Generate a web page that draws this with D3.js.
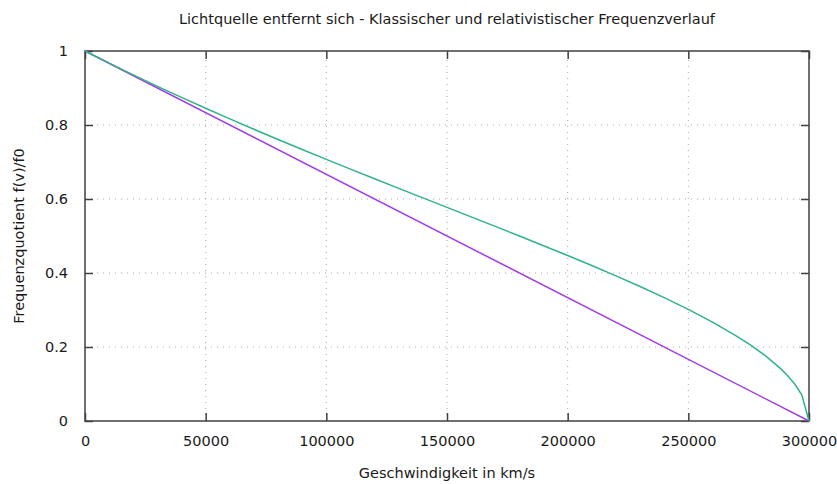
<!DOCTYPE html>
<html>
<head>
<meta charset="utf-8">
<script src="https://cdn.jsdelivr.net/npm/d3@7"></script>
<style>
  body { margin: 0; background: #fff; }
  text { font-family: "DejaVu Sans", Verdana, sans-serif; fill: #1a1a1a; }
</style>
</head>
<body>
<div id="chart"></div>
<script>
// geschwindigkeit in km/s
var vKlassisch = [0, 300000];
var fKlassisch = [1, 0];

var vRel = [0, 10000, 20000, 30000, 40000, 50000, 60000, 70000, 80000, 90000,
  100000, 110000, 120000, 130000, 140000, 150000, 160000, 170000, 180000, 190000,
  200000, 210000, 220000, 230000, 240000, 250000, 260000, 270000, 276000, 282000,
  288000, 291000, 294000, 297000, 300000];
var fRel = [1, 0.9672, 0.9354, 0.9045, 0.8745, 0.8452, 0.8165, 0.7884, 0.7609, 0.7338,
  0.7071, 0.6807, 0.6547, 0.6288, 0.6030, 0.5774, 0.5517, 0.5259, 0.5000, 0.4738,
  0.4472, 0.4201, 0.3922, 0.3634, 0.3333, 0.3015, 0.2673, 0.2294, 0.2041, 0.1759,
  0.1429, 0.1234, 0.1005, 0.0709, 0];

var xTicks = [0, 50000, 100000, 150000, 200000, 250000, 300000];
var yTicks = [0, 0.2, 0.4, 0.6, 0.8, 1];

var width = 837, height = 484;
var margin = {top: 51, right: 28, bottom: 63, left: 85};

var svg = d3.select("#chart").append("svg")
  .attr("width", width)
  .attr("height", height);

var x = d3.scaleLinear().domain([0, 300000]).range([margin.left, width - margin.right]);
var y = d3.scaleLinear().domain([0, 1]).range([height - margin.bottom, margin.top]);

// gitter
svg.append("g").selectAll("line")
  .data(xTicks.slice(1, -1))
  .enter().append("line")
    .attr("x1", function(d) { return x(d); })
    .attr("x2", function(d) { return x(d); })
    .attr("y1", y(0)).attr("y2", y(1))
    .style("stroke", "#a8a8a8")
    .style("stroke-width", 1)
    .style("stroke-dasharray", "1,5");
svg.append("g").selectAll("line")
  .data(yTicks.slice(1, -1))
  .enter().append("line")
    .attr("y1", function(d) { return y(d); })
    .attr("y2", function(d) { return y(d); })
    .attr("x1", x(0)).attr("x2", x(300000))
    .style("stroke", "#a8a8a8")
    .style("stroke-width", 1)
    .style("stroke-dasharray", "1,5");

// achsen, ticks nach innen (wie gnuplot)
var xAxis = svg.append("g")
  .attr("transform", "translate(0," + y(0) + ")")
  .call(d3.axisBottom(x).tickValues(xTicks).tickSizeInner(-8).tickSizeOuter(0).tickPadding(15).tickFormat(d3.format("d")));
var xAxisTop = svg.append("g")
  .attr("transform", "translate(0," + y(1) + ")")
  .call(d3.axisTop(x).tickValues(xTicks).tickSizeInner(-8).tickSizeOuter(0).tickFormat(""));
var yAxis = svg.append("g")
  .attr("transform", "translate(" + x(0) + ",0)")
  .call(d3.axisLeft(y).tickValues(yTicks).tickSizeInner(-8).tickSizeOuter(0).tickPadding(17).tickFormat(d3.format("")));
var yAxisRight = svg.append("g")
  .attr("transform", "translate(" + x(300000) + ",0)")
  .call(d3.axisRight(y).tickValues(yTicks).tickSizeInner(-8).tickSizeOuter(0).tickFormat(""));

[xAxis, xAxisTop, yAxis, yAxisRight].forEach(function(a) {
  a.select(".domain").remove();
  a.selectAll("line").style("stroke", "#404040").style("stroke-width", 1.5);
  a.selectAll("text").style("font-size", "14.5px").style("fill", "#1a1a1a");
});

// rahmen
svg.append("rect")
  .attr("x", x(0)).attr("y", y(1))
  .attr("width", x(300000) - x(0))
  .attr("height", y(0) - y(1))
  .style("fill", "none")
  .style("stroke", "#404040")
  .style("stroke-width", 1.5);

var line = d3.line()
  .x(function(d) { return x(d[0]); })
  .y(function(d) { return y(d[1]); });

svg.append("path")
  .datum(d3.zip(vKlassisch, fKlassisch))
  .attr("d", line)
  .style("fill", "none")
  .style("stroke", "#a23ce6")
  .style("stroke-width", 1.5);

svg.append("path")
  .datum(d3.zip(vRel, fRel))
  .attr("d", line)
  .style("fill", "none")
  .style("stroke", "#2fb38a")
  .style("stroke-width", 1.5);

// beschriftung
svg.append("text")
  .attr("x", 447).attr("y", 24)
  .attr("text-anchor", "middle")
  .style("font-size", "14.5px")
  .text("Lichtquelle entfernt sich - Klassischer und relativistischer Frequenzverlauf");

svg.append("text")
  .attr("x", 447).attr("y", 478)
  .attr("text-anchor", "middle")
  .style("font-size", "14.5px")
  .text("Geschwindigkeit in km/s");

svg.append("text")
  .attr("transform", "translate(24,236) rotate(-90)")
  .attr("text-anchor", "middle")
  .style("font-size", "14.5px")
  .text("Frequenzquotient f(v)/f0");
</script>
</body>
</html>
